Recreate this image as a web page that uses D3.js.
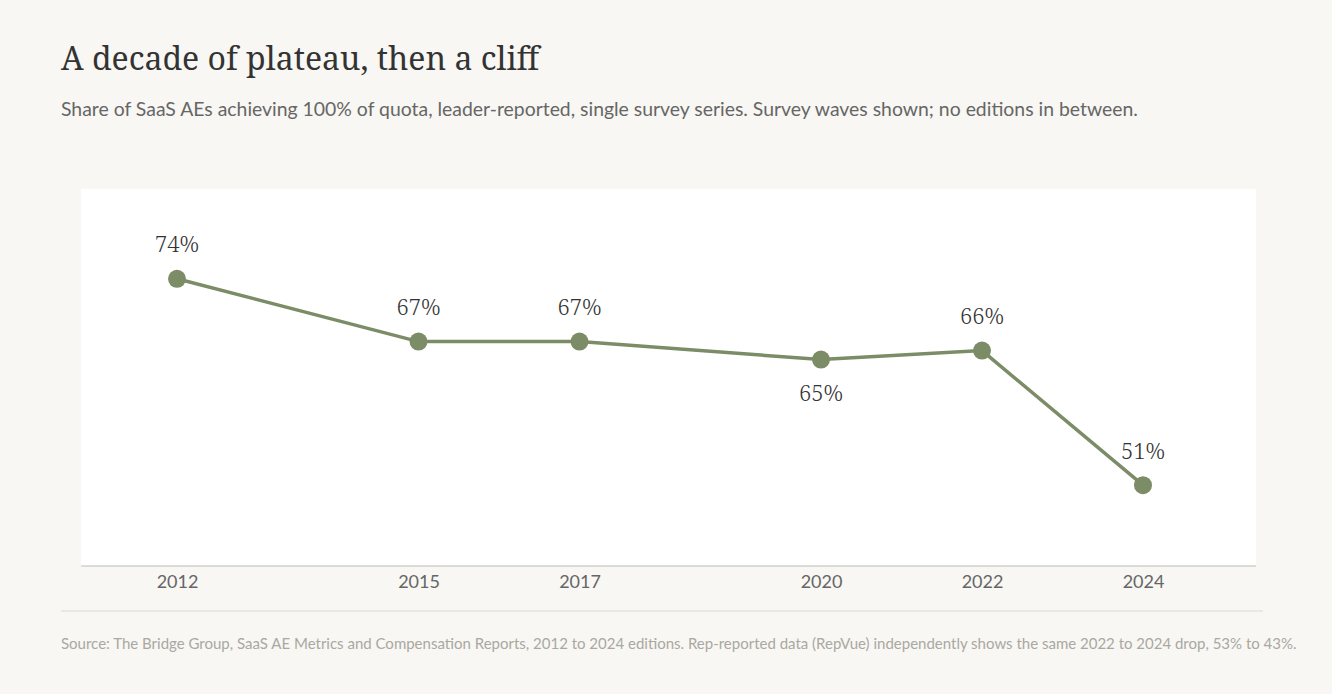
<!DOCTYPE html>
<html><head><meta charset="utf-8">
<script src="https://cdn.jsdelivr.net/npm/d3@7"></script>
<style>
html,body{margin:0;padding:0;background:#f8f7f3;}
svg{display:block;}
</style></head>
<body>
<script>
const years = [2012, 2015, 2017, 2020, 2022, 2024];
const values = [74, 67, 67, 65, 66, 51];
const labelBelow = [false, false, false, true, false, false];
const tickLabels = ["2012", "2015", "2017", "2020", "2022", "2024"];

const W = 1332, H = 694;
const svg = d3.select("body").append("svg").attr("width", W).attr("height", H);
svg.append("rect").attr("width", W).attr("height", H).attr("fill", "#f8f7f3");

const serif = "'Noto Serif','DejaVu Serif',serif";
const sans = "Lato,'Open Sans',sans-serif";

svg.append("text").attr("x", 61).attr("y", 70).attr("font-family", serif)
  .attr("font-size", 32).attr("fill", "#333").text("A decade of plateau, then a cliff");
svg.append("text").attr("x", 61).attr("y", 116).attr("font-family", sans)
  .attr("font-size", 19.4).attr("fill", "#666")
  .text("Share of SaaS AEs achieving 100% of quota, leader-reported, single survey series. Survey waves shown; no editions in between.");

const plot = {left: 81, right: 1256, top: 189, bottom: 566};
svg.append("rect").attr("x", plot.left).attr("y", plot.top)
  .attr("width", plot.right - plot.left).attr("height", plot.bottom - plot.top).attr("fill", "#fff");

const x = d3.scaleLinear().domain([2012, 2024]).range([177, 1143]);
const y = d3.scaleLinear().domain([42, 84]).range([plot.bottom, plot.top]);

const xAxis = svg.append("g").attr("transform", `translate(0,${plot.bottom})`)
  .call(d3.axisBottom(x).tickValues(years).tickFormat((d, i) => tickLabels[i]).tickSize(0).tickPadding(9));
xAxis.select(".domain").remove();
xAxis.selectAll("text").attr("font-family", sans).attr("font-size", 18).attr("fill", "#666");
svg.append("line").attr("x1", plot.left).attr("x2", plot.right).attr("y1", plot.bottom).attr("y2", plot.bottom)
  .attr("stroke", "#bdbbb5").attr("stroke-width", 1.2);

const data = years.map((yr, i) => ({yr, v: values[i], below: labelBelow[i]}));
const color = "#7b8c67";
svg.append("path").datum(data)
  .attr("d", d3.line().x(d => x(d.yr)).y(d => y(d.v)))
  .attr("fill", "none").attr("stroke", color).attr("stroke-width", 3.5);
svg.selectAll("circle.pt").data(data).join("circle").attr("class", "pt")
  .attr("cx", d => x(d.yr)).attr("cy", d => y(d.v)).attr("r", 9).attr("fill", color);
svg.selectAll("text.lbl").data(data).join("text").attr("class", "lbl")
  .attr("x", d => x(d.yr)).attr("y", d => y(d.v) + (d.below ? 34 : -34))
  .attr("dy", "0.35em").attr("text-anchor", "middle")
  .attr("font-family", serif).attr("font-size", 22).attr("font-weight", 300).attr("fill", "#333")
  .text(d => d.v + "%");

svg.append("line").attr("x1", 61).attr("x2", 1263).attr("y1", 611).attr("y2", 611)
  .attr("stroke", "#dcdad4").attr("stroke-width", 1.2);
svg.append("text").attr("x", 61).attr("y", 649).attr("font-family", sans)
  .attr("font-size", 15).attr("fill", "#aaa8a2")
  .text("Source: The Bridge Group, SaaS AE Metrics and Compensation Reports, 2012 to 2024 editions. Rep-reported data (RepVue) independently shows the same 2022 to 2024 drop, 53% to 43%.");
</script>
</body></html>
